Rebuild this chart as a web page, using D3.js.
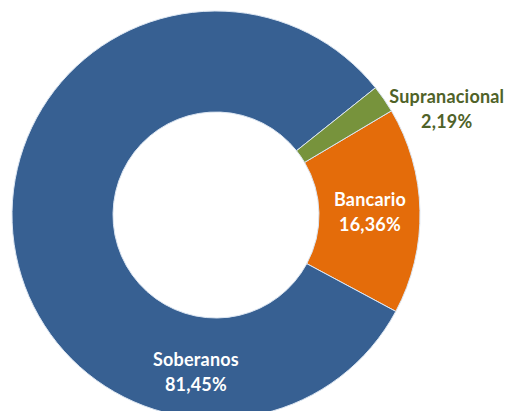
<!DOCTYPE html>
<html>
<head>
<meta charset="utf-8">
<style>
  body, html { margin: 0; padding: 0; background: #fff; }
  svg { display: block; }
</style>
</head>
<body>
<svg id="svg" width="506" height="411"></svg>
<script src="https://d3js.org/d3.v7.min.js"></script>
<script>
// Data
const categories = ['Bancario', 'Soberanos', 'Supranacional']
const shares = [16.36, 81.45, 2.19]
const percentLabels = ['16,36%', '81,45%', '2,19%']

const width = 506
const height = 411
const cx = 216, cy = 215
const outerR = 204, innerR = 103

const colors = d3.scaleOrdinal()
  .domain(categories)
  .range(['#e46c0a', '#376092', '#77933c'])

const textColors = d3.scaleOrdinal()
  .domain(categories)
  .range(['#ffffff', '#ffffff', '#4f6228'])

const deg = Math.PI / 180
const start = 59.3 * deg

const pie = d3.pie().sort(null).value(d => d.value)
  .startAngle(start).endAngle(start + 2 * Math.PI)

const arcData = pie(categories.map((c, i) => ({ name: c, value: shares[i], label: percentLabels[i] })))

const arcGen = d3.arc().innerRadius(innerR).outerRadius(outerR)

const svg = d3.select('#svg')
const g = svg.append('g').attr('transform', `translate(${cx}, ${cy})`)

g.selectAll('path')
  .data(arcData)
  .join('path')
  .attr('d', arcGen)
  .attr('fill', d => colors(d.data.name))
  .attr('stroke', '#dce6f2')
  .attr('stroke-width', 1)

// label placement (Excel labels were moved by hand)
const labelPos = {
  Bancario: { angle: 88.7, r: 154 },
  Soberanos: { angle: 187.3, r: 158 },
  Supranacional: { angle: 65.3, r: 254 }
}

const labels = g.selectAll('text.lbl')
  .data(arcData)
  .join('text')
  .attr('class', 'lbl')
  .attr('text-anchor', 'middle')
  .attr('font-family', 'Lato, "Open Sans", sans-serif')
  .attr('font-weight', 'bold')
  .attr('font-size', 18)
  .attr('letter-spacing', 0.2)
  .attr('fill', d => textColors(d.data.name))
  .attr('transform', d => {
    const p = labelPos[d.data.name]
    const a = p.angle * deg
    return `translate(${p.r * Math.sin(a)}, ${-p.r * Math.cos(a)})`
  })

labels.append('tspan').attr('x', 0).attr('y', -6).text(d => d.data.name)
labels.append('tspan').attr('x', 0).attr('y', 19).text(d => d.data.label)
</script>
</body>
</html>
